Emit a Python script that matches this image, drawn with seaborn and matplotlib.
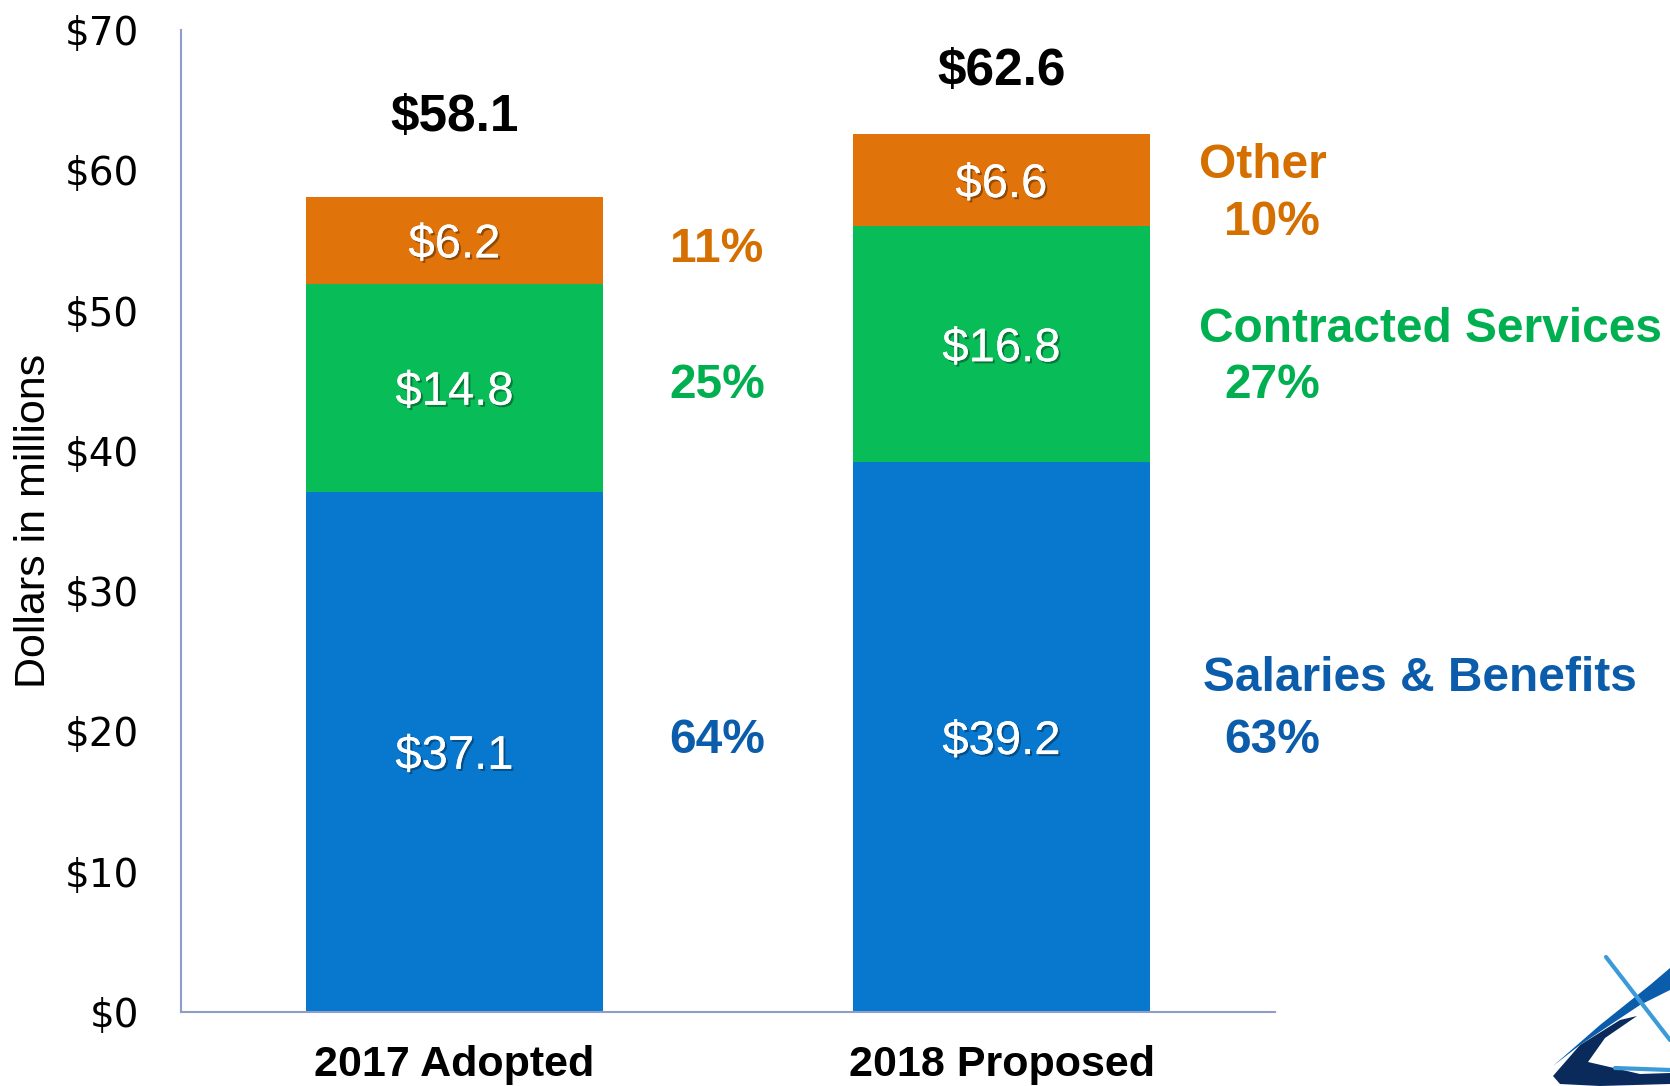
import matplotlib
matplotlib.use("Agg")
import matplotlib.pyplot as plt
import matplotlib.patheffects as pe
from matplotlib.lines import Line2D
from matplotlib.patches import Polygon
import seaborn as sns
import pandas as pd

# ---- data ----
categories = ["2017 Adopted", "2018 Proposed"]
salaries = [37.1, 39.2]
contracted = [14.8, 16.8]
other = [6.2, 6.6]
totals = [58.1, 62.6]
pct_2017 = ["64%", "25%", "11%"]
pct_2018 = ["63%", "27%", "10%"]
series_names = ["Salaries & Benefits", "Contracted Services", "Other"]
yticks = [0, 10, 20, 30, 40, 50, 60, 70]
ytick_labels = ["$0", "$10", "$20", "$30", "$40", "$50", "$60", "$70"]

bar_colors = ["#0878CF", "#08BC58", "#E0730A"]
text_colors = ["#0B5CAA", "#00B050", "#D46F00"]

sns.set_theme(style="white")
plt.rcParams["font.family"] = ["Liberation Sans", "DejaVu Sans"]

df = pd.DataFrame({
    "cat": categories,
    "sal": salaries,
    "con": contracted,
    "oth": other,
})
df["lvl2"] = df["sal"] + df["con"]
df["lvl3"] = df["lvl2"] + df["oth"]

fig = plt.figure(figsize=(16.7, 10.86), dpi=100)
ax = fig.add_axes([0.1084, 0.0681, 0.6551, 0.9043])

W = 0.544
sns.barplot(data=df, x="cat", y="lvl3", color=bar_colors[2], saturation=1, width=W, ax=ax, linewidth=0)
sns.barplot(data=df, x="cat", y="lvl2", color=bar_colors[1], saturation=1, width=W, ax=ax, linewidth=0)
sns.barplot(data=df, x="cat", y="sal", color=bar_colors[0], saturation=1, width=W, ax=ax, linewidth=0)

ax.set_xlim(-0.5, 1.5)
ax.set_ylim(0, 70)
ax.set_yticks(yticks)
ax.set_yticklabels(ytick_labels, fontsize=28, family=["DejaVu Sans"], color="black")
ax.tick_params(axis="y", length=0, pad=30)
ax.tick_params(axis="x", length=0, pad=24)
for lab in ax.get_xticklabels():
    lab.set_fontsize(31)
    lab.set_fontweight("bold")
    lab.set_color("black")
ax.set_xlabel("")
ax.set_ylabel("Dollars in millions", fontsize=31, labelpad=8, color="black")

for s in ["top", "right"]:
    ax.spines[s].set_visible(False)
for s in ["left", "bottom"]:
    ax.spines[s].set_color("#8E9DC9")
    ax.spines[s].set_linewidth(1.5)

shadow = [pe.withSimplePatchShadow(offset=(1.5, -1.5), shadow_rgbFace="black", alpha=0.35), pe.Normal()]

# segment value labels
for i in range(len(categories)):
    segs = [salaries[i], contracted[i], other[i]]
    base = 0
    for v in segs:
        ax.text(i, base + v / 2, f"${v:.1f}", ha="center", va="center_baseline",
                color="white", fontsize=34, path_effects=shadow)
        base += v

# totals
total_offsets = [3.9, 2.7]
for i, t in enumerate(totals):
    ax.text(i, t + total_offsets[i], f"${t:.1f}", ha="center", va="bottom",
            color="black", fontsize=37, fontweight="bold")

# percentage labels for 2017 (between bars)
pct_y = [19.7, 45.0, 54.7]
for j, p in enumerate(pct_2017):
    ax.text(0.48, pct_y[j], p, ha="center", va="center_baseline", color=text_colors[j],
            fontsize=34.5, fontweight="bold")

# right-side labels for 2018
name_y = [24.1, 49.0, 60.7]
pct18_y = [19.7, 45.0, 56.6]
name_x = [1.369, 1.361, 1.361]
for j in range(3):
    ax.text(name_x[j], name_y[j], series_names[j], ha="left", va="center_baseline",
            color=text_colors[j], fontsize=34.5, fontweight="bold")
    ax.text(1.494, pct18_y[j], pct_2018[j], ha="center", va="center_baseline",
            color=text_colors[j], fontsize=34.5, fontweight="bold")

# decorative logo fragment (bottom-right corner)
def px(x, y):
    return (x / 1670, 1 - y / 1086)

fig.add_artist(Polygon([px(1553, 1076), px(1580, 1045), px(1620, 1020), px(1637, 1016),
                        px(1605, 1038), px(1588, 1062), px(1640, 1074), px(1670, 1073),
                        px(1670, 1084), px(1600, 1086), px(1560, 1084)],
                       closed=True, transform=fig.transFigure, facecolor="#0B2A5C", edgecolor="none"))
fig.add_artist(Polygon([px(1553, 1066), px(1600, 1025), px(1650, 985), px(1670, 968),
                        px(1670, 990), px(1640, 1005), px(1580, 1045)],
                       closed=True, transform=fig.transFigure, facecolor="#0B5CAA", edgecolor="none"))
fig.add_artist(Line2D([1606 / 1670, 1670 / 1670], [1 - 957 / 1086, 1 - 1040 / 1086],
                      transform=fig.transFigure, color="#3C9AD8", linewidth=3))
fig.add_artist(Line2D([1615 / 1670, 1670 / 1670], [1 - 1068 / 1086, 1 - 1070 / 1086],
                      transform=fig.transFigure, color="#3C9AD8", linewidth=3))

fig.savefig("out.png", dpi=100)
